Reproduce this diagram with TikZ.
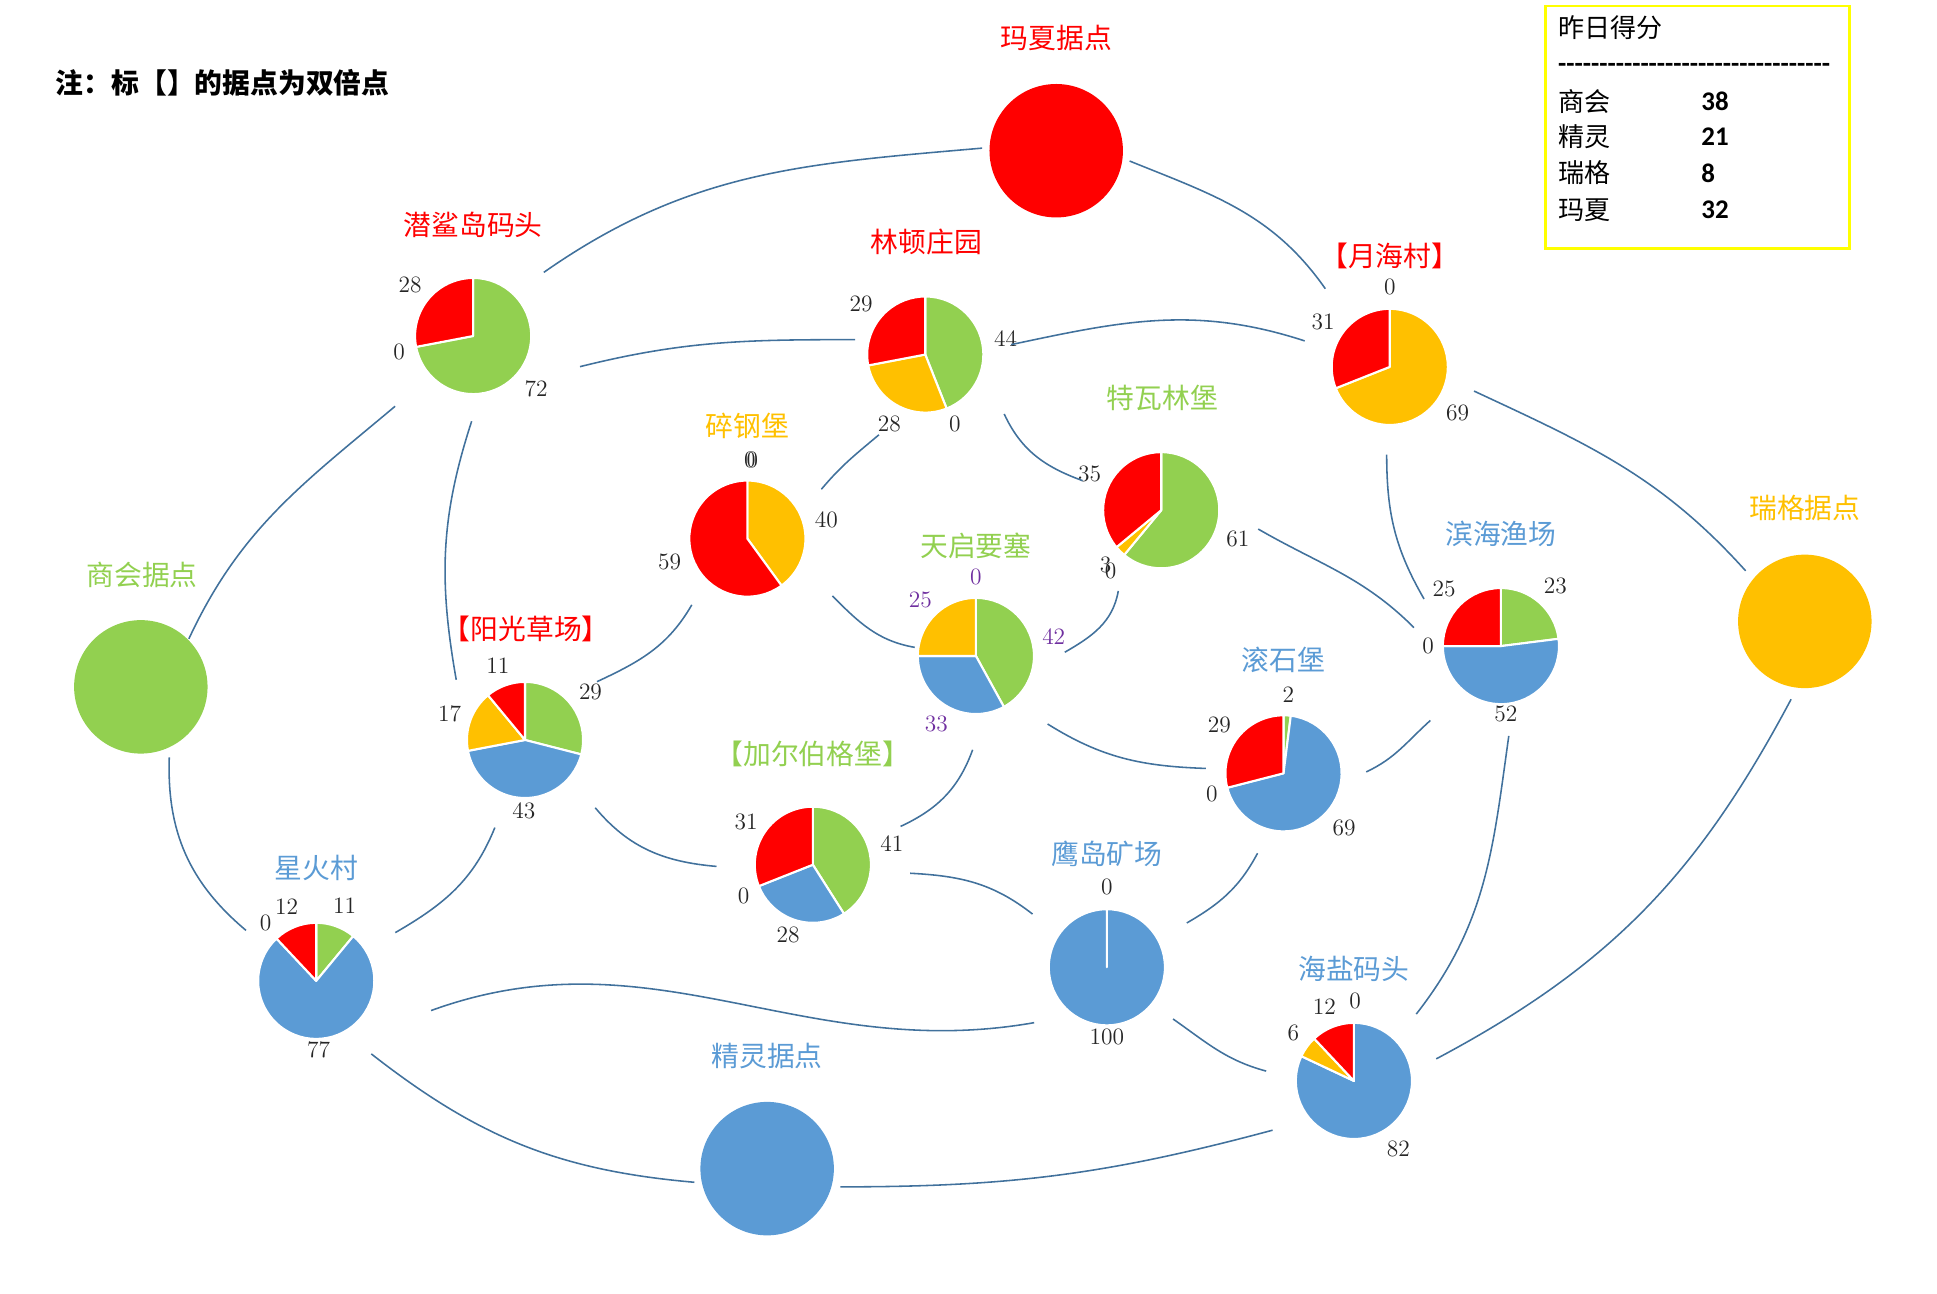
\documentclass[tikz,border=0pt]{standalone}
\usepackage{fontspec}
\newfontfamily\cjk{Noto Sans CJK SC}
\newfontfamily\carl{Carlito}
\usetikzlibrary{calc}
\definecolor{pG}{HTML}{92D050}
\definecolor{pB}{HTML}{5B9BD5}
\definecolor{pO}{HTML}{FFC000}
\definecolor{pR}{HTML}{FF0000}
\definecolor{lnk}{HTML}{41719C}
\definecolor{pur}{HTML}{7030A0}
\definecolor{numc}{HTML}{262626}
\definecolor{ylw}{HTML}{FFFF00}

\newcommand\pieslice[5]{%
  \ifnum#2>0
    \filldraw[fill=#5, slice] (#1.center) -- ++(#3:47) arc[start angle=#3, end angle=#4, radius=47] -- cycle;
  \fi}
\newcommand\mypie[5]{%
  \pgfmathsetmacro\myaA{90}%
  \pgfmathsetmacro\myaB{90-3.6*#2}%
  \pgfmathsetmacro\myaC{\myaB-3.6*#3}%
  \pgfmathsetmacro\myaD{\myaC-3.6*#4}%
  \pieslice{#1}{#2}{\myaA}{\myaB}{pG}%
  \pieslice{#1}{#3}{\myaB}{\myaC}{pB}%
  \pieslice{#1}{#4}{\myaC}{\myaD}{pO}%
  \pieslice{#1}{#5}{\myaD}{-270}{pR}%
}
\newcommand\dsh{-\kern0pt}

\begin{document}
\begin{tikzpicture}[x=0.025cm, y=0.025cm,
  link/.style={draw=lnk, line width=0.9pt},
  pienode/.style={circle, minimum size=2.35cm, inner sep=0pt},
  bigc/.style={circle, minimum size=2.7cm, inner sep=0pt},
  place/.style={font=\cjk\fontsize{16}{16}\selectfont, inner sep=0pt},
  num/.style={font=\fontsize{13.5}{13.5}\selectfont, text=numc, inner sep=0pt},
  pnum/.style={num, text=pur},
  slice/.style={draw=white, line width=1.2pt, line join=round},
  lgd/.style={font=\cjk\fontsize{15}{15}\selectfont, inner sep=0pt, anchor=west},
  lgn/.style={font=\carl\bfseries\fontsize{15.5}{15.5}\selectfont, inner sep=0pt, anchor=west}
]
\useasboundingbox (0,0) rectangle (1568,-1047);

% ---------- big circles ----------
\node[bigc, fill=pR] (ms) at (855,-122) {};
\node[bigc, fill=pG] (sh) at (114,-556) {};
\node[bigc, fill=pO] (rg) at (1461,-503) {};
\node[bigc, fill=pB] (jl) at (621,-946) {};
\node[place, text=pR] (msL) at (855,-31) {玛夏据点};
\node[place, text=pG] (shL) at (115,-465) {商会据点};
\node[place, text=pO] (rgL) at (1461,-411) {瑞格据点};
\node[place, text=pB] (jlL) at (621,-855) {精灵据点};

% ---------- pies ----------
\node[pienode] (qs) at (383,-272) {}; \mypie{qs}{72}{0}{0}{28}
\node[pienode] (ld) at (749,-287) {}; \mypie{ld}{44}{0}{28}{29}
\node[pienode] (yh) at (1125,-297) {}; \mypie{yh}{0}{0}{69}{31}
\node[pienode] (sg) at (605,-436) {}; \mypie{sg}{0}{0}{40}{59}
\node[pienode] (tw) at (940,-413) {}; \mypie{tw}{61}{0}{3}{35}
\node[pienode] (tq) at (790,-531) {}; \mypie{tq}{42}{33}{25}{0}
\node[pienode] (yg) at (425,-599) {}; \mypie{yg}{29}{43}{17}{11}
\node[pienode] (bh) at (1215,-523) {}; \mypie{bh}{23}{52}{0}{25}
\node[pienode] (gs) at (1039,-626) {}; \mypie{gs}{2}{69}{0}{29}
\node[pienode] (je) at (658,-700) {}; \mypie{je}{41}{28}{0}{31}
\node[pienode] (xh) at (256,-794) {}; \mypie{xh}{11}{77}{0}{12}
\node[pienode] (yd) at (896,-783) {}; \mypie{yd}{0}{100}{0}{0}
\node[pienode] (hy) at (1096,-875) {}; \mypie{hy}{0}{82}{6}{12}

% ---------- place labels ----------
\node[place, text=pR] (qsL) at (383,-182) {潜鲨岛码头};
\node[place, text=pR] (ldL) at (750,-196) {林顿庄园};
\node[place, text=pR] (yhL) at (1125,-207) {【月海村】};
\node[place, text=pO] (sgL) at (605,-345) {碎钢堡};
\node[place, text=pG] (twL) at (941,-322) {特瓦林堡};
\node[place, text=pG] (tqL) at (790,-442) {天启要塞};
\node[place, text=pR] (ygL) at (426,-509) {【阳光草场】};
\node[place, text=pB] (bhL) at (1215,-432) {滨海渔场};
\node[place, text=pB] (gsL) at (1039,-534) {滚石堡};
\node[place, text=pG] (jeL) at (658,-610) {【加尔伯格堡】};
\node[place, text=pB] (xhL) at (256,-703) {星火村};
\node[place, text=pB] (ydL) at (896,-691) {鹰岛矿场};
\node[place, text=pB] (hyL) at (1096,-784) {海盐码头};

% ---------- numbers ----------
\node[num] (qs1) at (332,-231) {28};
\node[num] (qs2) at (323,-285) {0};
\node[num] (qs3) at (434,-315) {72};
\node[num] (ld1) at (697,-246) {29};
\node[num] (ld2) at (814,-274) {44};
\node[num] (ld3) at (720,-343) {28};
\node[num] (ld4) at (773,-343) {0};
\node[num] (yh1) at (1125,-232) {0};
\node[num] (yh2) at (1071,-261) {31};
\node[num] (yh3) at (1180,-334) {69};
\node[num] (sg1) at (607,-372) {0};
\node[num] (sg2) at (609,-372) {0};
\node[num] (sg3) at (669,-421) {40};
\node[num] (sg4) at (542,-455) {59};
\node[num] (tw1) at (882,-384) {35};
\node[num] (tw2) at (1002,-436) {61};
\node[num] (tw3) at (895,-457) {3};
\node[num] (tw4) at (899,-462) {0};
\node[pnum] (tq1) at (790,-467) {0};
\node[pnum] (tq2) at (853,-515) {42};
\node[pnum] (tq3) at (758,-586) {33};
\node[pnum] (tq4) at (745,-486) {25};
\node[num] (yg1) at (403,-539) {11};
\node[num] (yg2) at (478,-560) {29};
\node[num] (yg3) at (364,-578) {17};
\node[num] (yg4) at (424,-656) {43};
\node[num] (bh1) at (1169,-477) {25};
\node[num] (bh2) at (1259,-474) {23};
\node[num] (bh3) at (1156,-523) {0};
\node[num] (bh4) at (1219,-578) {52};
\node[num] (gs1) at (1043,-562) {2};
\node[num] (gs2) at (987,-587) {29};
\node[num] (gs3) at (981,-643) {0};
\node[num] (gs4) at (1088,-670) {69};
\node[num] (je1) at (604,-665) {31};
\node[num] (je2) at (722,-683) {41};
\node[num] (je3) at (602,-725) {0};
\node[num] (je4) at (638,-757) {28};
\node[num] (xh1) at (232,-734) {12};
\node[num] (xh2) at (279,-733) {11};
\node[num] (xh3) at (215,-747) {0};
\node[num] (xh4) at (258,-850) {77};
\node[num] (yd1) at (896,-718) {0};
\node[num] (yd2) at (896,-839) {100};
\node[num] (hy1) at (1072,-815) {12};
\node[num] (hy2) at (1097,-810) {0};
\node[num] (hy3) at (1047,-836) {6};
\node[num] (hy4) at (1132,-930) {82};

% ---------- connectors ----------
\draw[link] ($(qs)+(42:77)$) to[out=35,in=185] ($(ms)+(178:60)$);
\draw[link] ($(ms)+(-8:60)$) to[out=-22,in=125] ($(yh)+(129.5:82)$);
\draw[link] ($(qs)+(-16:90)$) to[out=14,in=180] ($(ld)+(168:58)$);
\draw[link] ($(ld)+(6.6:70)$) to[out=12,in=162] ($(yh)+(163:72)$);
\draw[link] ($(yh)+(-16:71)$) to[out=-25,in=132] ($(rg)+(139.5:63)$);
\draw[link] ($(qs)+(-138:85)$) to[out=-140,in=65] ($(sh)+(45:55)$);
\draw[link] ($(qs)+(-91:69)$) to[out=-108,in=100] ($(yg)+(138.8:74)$);
\draw[link] ($(ld)+(-120:75)$) to[out=-140,in=50] ($(sg)+(33.7:72)$);
\draw[link] ($(ld)+(-37:80)$) to[out=-65,in=160] ($(tw)+(159.4:68)$);
\draw[link] ($(sg)+(-130:70)$) to[out=-120,in=25] ($(yg)+(39:75)$);
\draw[link] ($(sg)+(-34:83)$) to[out=-45,in=170] ($(tq)+(172:50)$);
\draw[link] ($(tw)+(-118:74)$) to[out=-100,in=30] ($(tq)+(2.4:72)$);
\draw[link] ($(tw)+(-11:80)$) to[out=-30,in=135] ($(bh)+(168:72)$);
\draw[link] ($(yh)+(-92:71)$) to[out=-90,in=120] ($(bh)+(148.5:73)$);
\draw[link] ($(rg)+(-100:64)$) to[out=-118,in=28] ($(hy)+(15:69)$);
\draw[link] ($(bh)+(-85:73)$) to[out=-98,in=52] ($(hy)+(47:74)$);
\draw[link] ($(bh)+(-133.5:83)$) to[out=-138,in=25] ($(gs)+(1:67)$);
\draw[link] ($(tq)+(-43.5:80)$) to[out=-32,in=178] ($(gs)+(176.4:63)$);
\draw[link] ($(tq)+(-92:76)$) to[out=-110,in=25] ($(je)+(23.6:77.5)$);
\draw[link] ($(gs)+(-108:68)$) to[out=-118,in=30] ($(yd)+(29:74)$);
\draw[link] ($(je)+(-5:79)$) to[out=-3,in=142] ($(yd)+(144.4:74)$);
\draw[link] ($(yg)+(-44:79)$) to[out=-50,in=175] ($(je)+(181:78)$);
\draw[link] ($(yg)+(-109:75)$) to[out=-112,in=30] ($(xh)+(31.4:75)$);
\draw[link] ($(sh)+(-68:61.5)$) to[out=-92,in=140] ($(xh)+(144.3:70)$);
\draw[link] ($(xh)+(-14.5:96)$) to[out=20,in=190] ($(yd)+(-142.7:74)$);
\draw[link] ($(xh)+(-53:74)$) to[out=-38,in=175] ($(jl)+(190.6:60)$);
\draw[link] ($(jl)+(-14:61)$) to[out=0,in=195] ($(hy)+(-148.8:77)$);
\draw[link] ($(yd)+(-38:68)$) to[out=-35,in=165] ($(hy)+(173.6:71.5)$);

% ---------- note ----------
\node[font=\cjk\bfseries\fontsize{16}{16}\selectfont, inner sep=0pt, anchor=west] (note) at (45,-67) {注：标【】的据点为双倍点};

% ---------- legend ----------
\node[draw=ylw, line width=1.4pt, inner sep=0pt, minimum width=6.15cm, minimum height=4.9cm, anchor=north west] (lgbox) at (1250,-4) {};
\node[lgd] (lg0) at (1261,-22) {昨日得分};
\node[lgn] (lgd) at (1261,-55) {\dsh\dsh\dsh\dsh\dsh\dsh\dsh\dsh\dsh\dsh\dsh\dsh\dsh\dsh\dsh\dsh\dsh\dsh\dsh\dsh\dsh\dsh\dsh\dsh\dsh\dsh\dsh\dsh\dsh\dsh\dsh\dsh\dsh};
\node[lgd] (lg1) at (1261,-82) {商会};
\node[lgn] (lg1n) at (1377,-82) {38};
\node[lgd] (lg2) at (1261,-111) {精灵};
\node[lgn] (lg2n) at (1377,-111) {21};
\node[lgd] (lg3) at (1261,-140) {瑞格};
\node[lgn] (lg3n) at (1377,-140) {8};
\node[lgd] (lg4) at (1261,-170) {玛夏};
\node[lgn] (lg4n) at (1377,-170) {32};
\end{tikzpicture}
\end{document}
